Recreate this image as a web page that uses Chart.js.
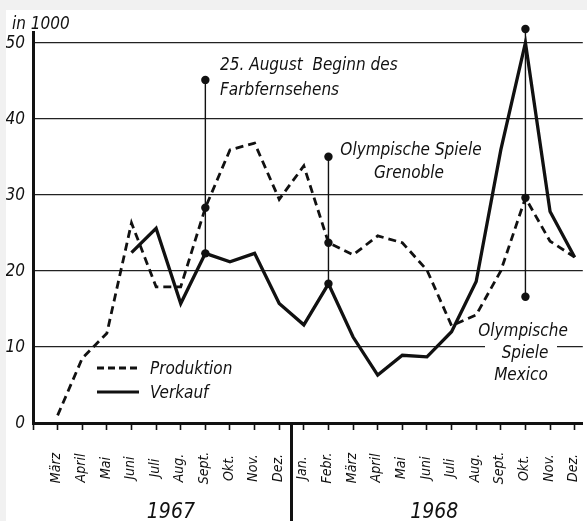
<!DOCTYPE html>
<html>
<head>
<meta charset="utf-8">
<script src="https://cdn.jsdelivr.net/npm/chart.js@4.4.1/dist/chart.umd.min.js"></script>
<style>
  html, body { margin: 0; padding: 0; background: #f1f1f1; }
  #wrap { position: absolute; left: 6px; top: 10px; width: 581px; height: 511px; background: #fff; }
  canvas { display: block; }
</style>
</head>
<body>
<div id="wrap"><canvas id="c" width="581" height="511"></canvas></div>
<script>
// Monate auf der x-Achse (März 1967 bis Dezember 1968)
const monate1967 = ['März', 'April', 'Mai', 'Juni', 'Juli', 'Aug.', 'Sept.', 'Okt.', 'Nov.', 'Dez.'];
const monate1968 = ['Jan.', 'Febr.', 'März', 'April', 'Mai', 'Juni', 'Juli', 'Aug.', 'Sept.', 'Okt.', 'Nov.', 'Dez.'];
const jahre = ['1967', '1968'];

// Farbfernsehgeräte in 1000 Stück
const produktion = [1, 8.5, 11.8, 26.3, 17.9, 17.9, 28.3, 35.9, 36.8, 29.4, 33.8, 23.7,
                    22.1, 24.6, 23.7, 20.1, 12.8, 14.2, 20, 29.6, 23.9, 21.8];
const verkauf = [null, null, null, 22.4, 25.6, 15.7, 22.3, 21.2, 22.3, 15.7, 12.9, 18.3,
                 11.3, 6.3, 8.9, 8.7, 12.0, 18.6, 35.9, 50, 27.8, 21.8];

// Werte der y-Achse
const yWerte = [0, 10, 20, 30, 40, 50];

// Ereignisse: Monatsindex, oberer Markierungspunkt, unterer Markierungspunkt
const ereignisMonat = [6, 11, 19];
const ereignisOben = [45.1, 35, 51.8];
const ereignisUnten = [verkauf[6], verkauf[11], 16.6];
const ereignisText = [
  ['25. August  Beginn des', 'Farbfernsehens'],
  ['Olympische Spiele', 'Grenoble'],
  ['Olympische', 'Spiele', 'Mexico']
];

const monate = monate1967.concat(monate1968);
const FONT = '"DejaVu Sans Condensed", "Liberation Sans Narrow", sans-serif';
const INK = '#111';

const punkte = arr => arr.map((v, i) => ({ x: i, y: v }));

const ereignisDatasets = ereignisMonat.map((m, k) => ({
  label: 'ereignis' + k,
  data: [
    { x: m, y: ereignisOben[k] },
    { x: m, y: produktion[m] },
    { x: m, y: ereignisUnten[k] }
  ],
  borderColor: INK,
  borderWidth: 1.4,
  pointRadius: 4.2,
  pointBackgroundColor: INK,
  pointBorderWidth: 0,
  clip: false
}));

const beschriftung = {
  id: 'beschriftung',
  beforeDatasetsDraw(chart) {
    const ctx = chart.ctx;
    // Textfeld "Olympische Spiele Mexico" unterbricht die 10er-Linie
    const y10 = chart.scales.y.getPixelForValue(10);
    ctx.save();
    ctx.fillStyle = '#fff';
    ctx.fillRect(479, y10 - 3, 72, 6);
    ctx.restore();
  },
  afterDraw(chart) {
    const ctx = chart.ctx;
    const xs = chart.scales.x, ys = chart.scales.y;
    const area = chart.chartArea;
    ctx.save();
    ctx.fillStyle = INK;
    ctx.strokeStyle = INK;

    // Einheit
    ctx.font = 'italic 17px ' + FONT;
    ctx.textAlign = 'left';
    ctx.textBaseline = 'alphabetic';
    ctx.fillText('in 1000', 6, 19);

    // y-Beschriftung
    ctx.font = 'italic 17px ' + FONT;
    ctx.textAlign = 'right';
    ctx.textBaseline = 'middle';
    yWerte.forEach(v => ctx.fillText(String(v), 19, ys.getPixelForValue(v) + 1));

    // Monatsnamen, senkrecht
    ctx.font = 'italic 14px ' + FONT;
    ctx.textAlign = 'center';
    ctx.textBaseline = 'middle';
    monate.forEach((m, i) => {
      ctx.save();
      ctx.translate(xs.getPixelForValue(i) - 1, 458);
      ctx.rotate(-Math.PI / 2);
      ctx.fillText(m, 0, 0);
      ctx.restore();
    });

    // Jahreszahlen
    ctx.font = 'italic 21px ' + FONT;
    ctx.textBaseline = 'alphabetic';
    ctx.fillText(jahre[0], xs.getPixelForValue(4.6), 508);
    ctx.fillText(jahre[1], xs.getPixelForValue(15.3), 508);

    // Jahrestrennung
    const xj = xs.getPixelForValue(9.5);
    ctx.lineWidth = 3;
    ctx.beginPath();
    ctx.moveTo(xj, area.bottom);
    ctx.lineTo(xj, chart.height);
    ctx.stroke();

    // Ereignistexte
    ctx.font = 'italic 17px ' + FONT;
    ctx.textAlign = 'left';
    ctx.fillText(ereignisText[0][0], 214, 60);
    ctx.fillText(ereignisText[0][1], 214, 85);
    ctx.textAlign = 'center';
    ctx.fillText(ereignisText[1][0], 405, 145);
    ctx.fillText(ereignisText[1][1], 403, 168);
    ctx.fillText(ereignisText[2][0], 517, 326);
    ctx.fillText(ereignisText[2][1], 519, 348);
    ctx.fillText(ereignisText[2][2], 515, 370);

    // Legende
    ctx.lineWidth = 3;
    ctx.setLineDash([7, 4]);
    ctx.beginPath();
    ctx.moveTo(91, 358); ctx.lineTo(133, 358);
    ctx.stroke();
    ctx.setLineDash([]);
    ctx.beginPath();
    ctx.moveTo(91, 382); ctx.lineTo(133, 382);
    ctx.stroke();
    ctx.textAlign = 'left';
    ctx.fillText(chart.data.datasets[0].label, 144, 364);
    ctx.fillText(chart.data.datasets[1].label, 144, 388);
    ctx.restore();
  }
};

new Chart(document.getElementById('c'), {
  type: 'line',
  data: {
    datasets: [
      {
        label: 'Produktion',
        data: punkte(produktion),
        borderColor: INK,
        borderWidth: 2.8,
        borderDash: [8, 5],
        pointRadius: 0,
        tension: 0
      },
      {
        label: 'Verkauf',
        data: punkte(verkauf),
        borderColor: INK,
        borderWidth: 3.3,
        pointRadius: 0,
        tension: 0,
        spanGaps: false
      },
      ...ereignisDatasets
    ]
  },
  options: {
    responsive: false,
    animation: false,
    events: [],
    layout: { padding: { left: 27, top: 22, right: 2, bottom: 91 } },
    plugins: { legend: { display: false }, tooltip: { enabled: false } },
    scales: {
      x: {
        type: 'linear',
        min: -1,
        max: 21.33,
        afterBuildTicks: s => {
          s.ticks = [];
          for (let i = -1; i <= 21; i++) s.ticks.push({ value: i });
        },
        ticks: { display: false },
        grid: { drawOnChartArea: false, drawTicks: true, tickLength: 7, tickWidth: 1.6, tickColor: INK },
        border: { display: true, color: INK, width: 3 }
      },
      y: {
        min: 0,
        max: 51.4,
        afterBuildTicks: s => { s.ticks = yWerte.map(v => ({ value: v })); },
        ticks: { display: false },
        grid: { color: '#222', lineWidth: 1.2, drawTicks: false },
        border: { display: true, color: INK, width: 3 }
      }
    }
  },
  plugins: [beschriftung]
});
</script>
</body>
</html>
